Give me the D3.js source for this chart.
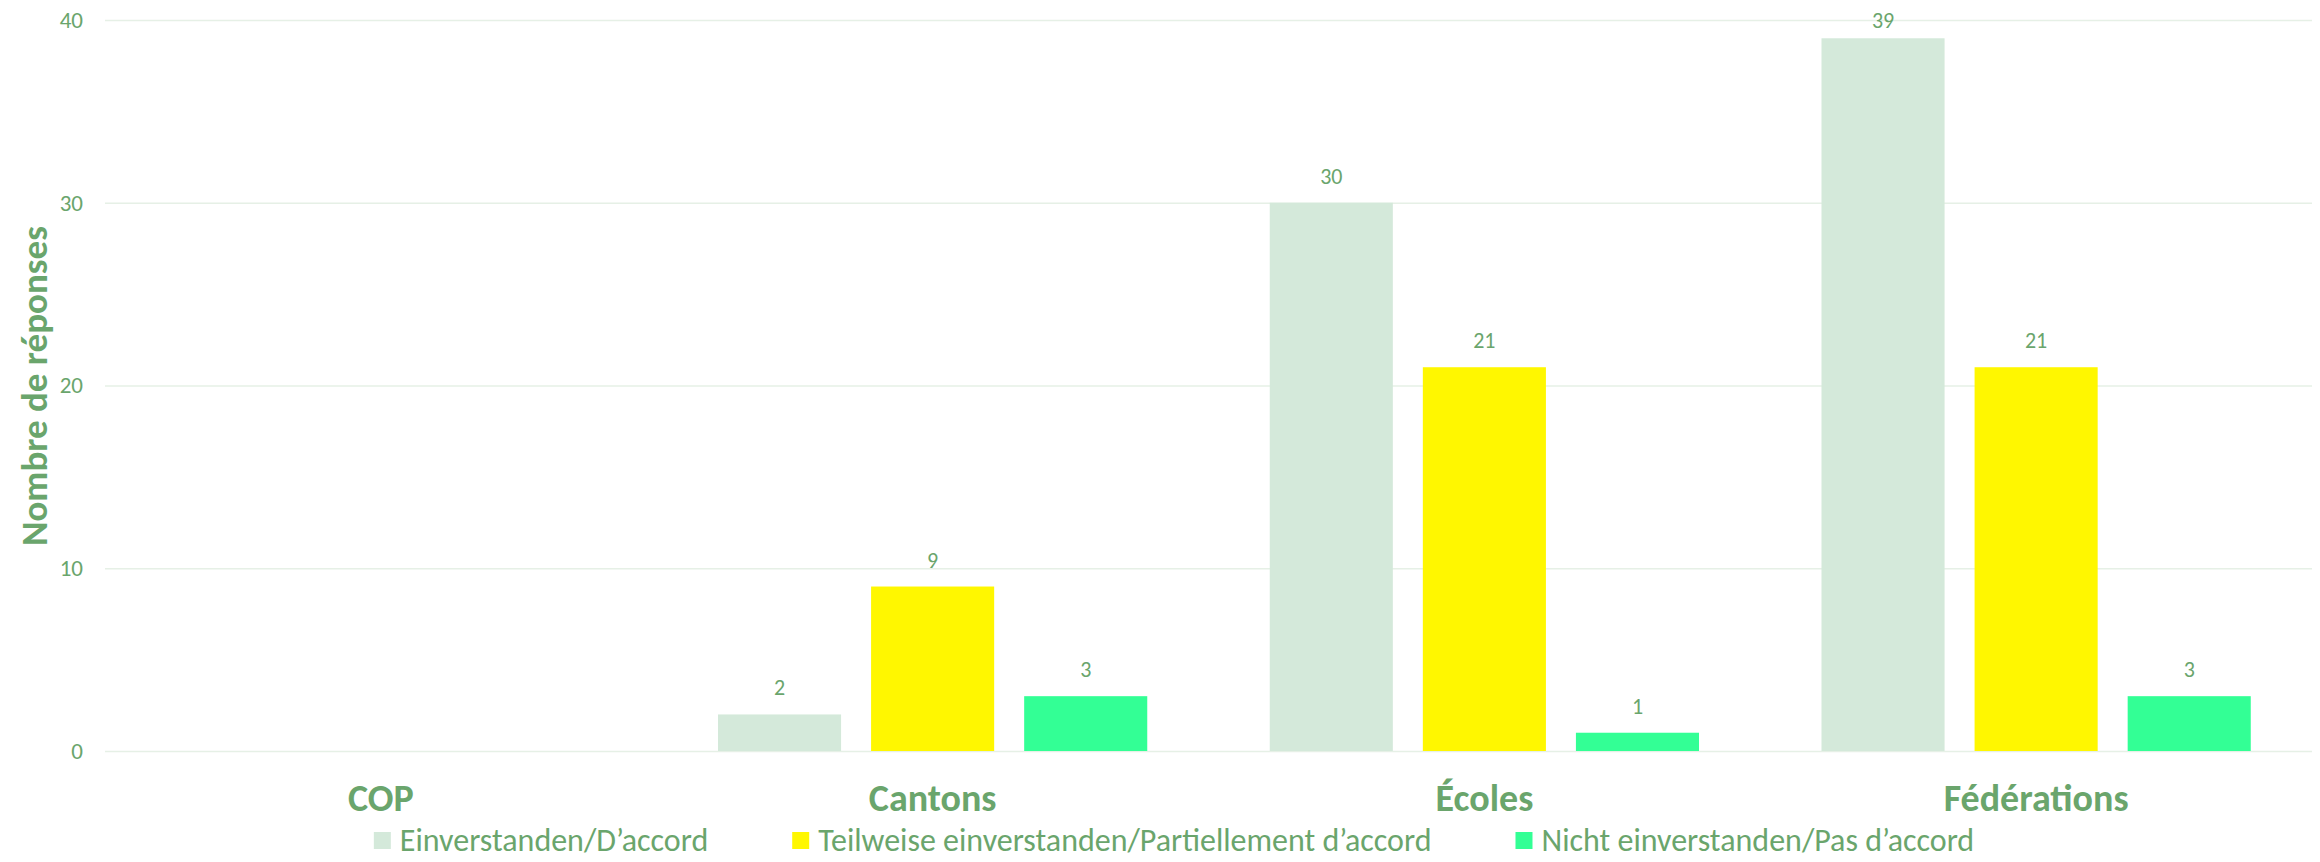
<!DOCTYPE html>
<html>
<head>
<meta charset="utf-8">
<script src="https://cdn.jsdelivr.net/npm/d3@7"></script>
<style>
	body { margin: 0; background: #fff; }
	text { font-family: Carlito, Lato, "Open Sans", sans-serif; }
</style>
</head>
<body>
<script>
var categories = ["COP", "Cantons", "Écoles", "Fédérations"]
var seriesNames = ["Einverstanden/D’accord", "Teilweise einverstanden/Partiellement d’accord", "Nicht einverstanden/Pas d’accord"]
var accord = [null, 2, 30, 39]
var partiel = [null, 9, 21, 21]
var pasAccord = [null, 3, 1, 3]
var yTicks = [0, 10, 20, 30, 40]
var colors = ["#d4e9da", "#fff700", "#33ff95"]

var textColor = "#6aa56c"
var gridColor = "#e6f0e6"

var width = 2320, height = 862
var plot = {left: 105, right: 2312, top: 20, bottom: 751}

var series = [accord, partiel, pasAccord]

var svg = d3.select("body")
	.append("svg")
	.attr("width", width)
	.attr("height", height);

var x0 = d3.scaleBand()
	.domain(categories)
	.range([plot.left, plot.right])
	.paddingInner(0.222)
	.paddingOuter(0.111);

var x1 = d3.scaleBand()
	.domain(seriesNames)
	.range([0, x0.bandwidth()])
	.paddingInner(0.196);

var y = d3.scaleLinear()
	.domain([0, 40])
	.range([plot.bottom, plot.top]);

// gridlines + tick labels
var yAxis = svg.append("g")
	.attr("transform", "translate(" + plot.left + ",0)")
	.call(d3.axisLeft(y)
		.tickValues(yTicks)
		.tickSize(-(plot.right - plot.left))
		.tickPadding(22));

yAxis.select(".domain").remove()
yAxis.selectAll(".tick line")
	.attr("stroke", gridColor)
	.attr("stroke-width", 1.6);
yAxis.selectAll(".tick text")
	.attr("fill", textColor)
	.style("font-size", "23px");

// bars
var bars = []
series.forEach(function(vals, si) {
	vals.forEach(function(v, ci) {
		if(v != null) bars.push({cat: categories[ci], name: seriesNames[si], value: v, color: colors[si]})
	})
})

svg.selectAll(".bar")
	.data(bars)
	.enter()
	.append("rect")
	.attr("class", "bar")
	.attr("x", function(d) { return x0(d.cat) + x1(d.name) })
	.attr("y", function(d) { return y(d.value) })
	.attr("width", x1.bandwidth())
	.attr("height", function(d) { return y(0) - y(d.value) })
	.attr("fill", function(d) { return d.color });

svg.selectAll(".val")
	.data(bars)
	.enter()
	.append("text")
	.attr("class", "val")
	.attr("x", function(d) { return x0(d.cat) + x1(d.name) + x1.bandwidth() / 2 })
	.attr("y", function(d) { return Math.max(y(d.value) - 19, 28) })
	.attr("text-anchor", "middle")
	.attr("fill", textColor)
	.style("font-size", "22px")
	.text(function(d) { return d.value });

// category axis
var xAxis = svg.append("g")
	.attr("transform", "translate(0," + plot.bottom + ")")
	.call(d3.axisBottom(x0).tickSize(0).tickPadding(0));

xAxis.select(".domain").remove()
xAxis.selectAll(".tick text")
	.attr("dy", null)
	.attr("y", 60)
	.attr("fill", textColor)
	.style("font-size", "38px")
	.style("font-weight", "bold");

// y title
svg.append("text")
	.attr("transform", "translate(47,386) rotate(-90)")
	.attr("text-anchor", "middle")
	.attr("fill", textColor)
	.style("font-size", "37px")
	.style("font-weight", "bold")
	.text("Nombre de réponses");

// legend
var legend = svg.append("g")
var lx = 0
seriesNames.forEach(function(name, i) {
	var item = legend.append("g").attr("transform", "translate(" + lx + ",0)")
	item.append("rect")
		.attr("x", 0)
		.attr("y", -19)
		.attr("width", 17)
		.attr("height", 17)
		.attr("fill", colors[i]);
	var t = item.append("text")
		.attr("x", 26)
		.attr("y", 0)
		.attr("fill", textColor)
		.style("font-size", "32px")
		.text(name);
	lx += 26 + t.node().getComputedTextLength() + 84
})
var legendW = lx - 84
legend.attr("transform", "translate(" + (1174 - legendW / 2) + ",851)")
</script>
</body>
</html>
